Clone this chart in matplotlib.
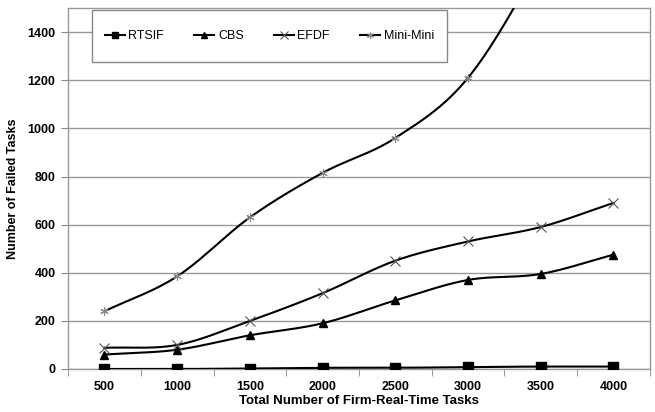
import numpy as np
import matplotlib
matplotlib.use("Agg")
import matplotlib.pyplot as plt
from matplotlib.lines import Line2D
from matplotlib.patches import Rectangle

plt.rcParams['font.family'] = ['Liberation Sans', 'DejaVu Sans']

categories = ["500", "1000", "1500", "2000", "2500", "3000", "3500", "4000"]
rtsif = [0, 0, 2, 5, 5, 8, 10, 10]
cbs = [60, 80, 140, 190, 285, 370, 395, 475]
efdf = [88, 100, 200, 315, 450, 530, 590, 690]
minimini = [240, 385, 630, 815, 960, 1210, 1700, 2300]
y_ticks = [0, 200, 400, 600, 800, 1000, 1200, 1400]


def smooth(xs, ys, n=30):
    xs = np.asarray(xs, float)
    ys = np.asarray(ys, float)
    px = np.concatenate([[2 * xs[0] - xs[1]], xs, [2 * xs[-1] - xs[-2]]])
    py = np.concatenate([[2 * ys[0] - ys[1]], ys, [2 * ys[-1] - ys[-2]]])
    ox, oy = [], []
    t = np.linspace(0, 1, n)
    for i in range(1, len(px) - 2):
        for p, out in ((px, ox), (py, oy)):
            p0, p1, p2, p3 = p[i - 1], p[i], p[i + 1], p[i + 2]
            seg = 0.5 * ((2 * p1) + (-p0 + p2) * t + (2 * p0 - 5 * p1 + 4 * p2 - p3) * t ** 2
                         + (-p0 + 3 * p1 - 3 * p2 + p3) * t ** 3)
            out.extend(seg)
    return np.array(ox), np.array(oy)


fig = plt.figure(figsize=(6.55, 4.12), dpi=100)
ax = fig.add_axes([0.104, 0.1044, 0.888, 0.876])

x = np.arange(len(categories))
series = [
    ("RTSIF", rtsif, dict(marker='s', markersize=7, markerfacecolor='black', markeredgecolor='black'), 5),
    ("CBS", cbs, dict(marker='^', markersize=6, markerfacecolor='black', markeredgecolor='black'), 5),
    ("EFDF", efdf, dict(marker='x', markersize=7, markeredgecolor='#555555', markeredgewidth=0.8), 6),
    ("Mini-Mini", minimini, dict(marker=(6, 2, 0), markersize=6, markeredgecolor='#888888', markeredgewidth=0.8), 5),
]
handles = []
for name, vals, st, lms in series:
    sx, sy = smooth(x, vals)
    ax.plot(sx, sy, color='black', lw=1.5, zorder=3)
    ax.plot(x, vals, linestyle='none', zorder=4, **st)
    hst = dict(st)
    hst['markersize'] = lms
    handles.append(Line2D([0], [0], color='black', lw=1.5, **hst))

ax.set_xlim(-0.5, len(categories) - 0.5)
ax.set_ylim(0, 1500)
ax.set_yticks(y_ticks)
ax.set_yticklabels([str(v) for v in y_ticks], fontweight='bold', fontsize=9)
ax.set_xticks(x)
ax.set_xticklabels(categories, fontweight='bold', fontsize=9)
ax.set_xticks(np.arange(len(categories) + 1) - 0.5, minor=True)
ax.tick_params(axis='x', which='major', length=0, pad=9)
ax.tick_params(axis='x', which='minor', length=5, color='#888888', direction='out')
ax.tick_params(axis='y', length=5, color='#888888', direction='out', pad=4)
ax.grid(axis='y', color='#999999', lw=1.0)
ax.set_axisbelow(True)
for s in ax.spines.values():
    s.set_color('#999999')
    s.set_linewidth(1.0)

ax.set_xlabel("Total Number of Firm-Real-Time Tasks", fontweight='bold', fontsize=9.5, labelpad=1)
ax.set_ylabel("Number of Failed Tasks", fontweight='bold', fontsize=9, labelpad=6)

# legend box (frame drawn separately to get the tall Excel-style box)
box = Rectangle((0.041, 0.850), 0.610, 0.144, transform=ax.transAxes,
                facecolor='white', edgecolor='#888888', lw=1.0, zorder=5)
ax.add_patch(box)
leg = ax.legend(handles, [s[0] for s in series], ncol=4, loc='center',
                bbox_to_anchor=(0.346, 0.922), frameon=False,
                fontsize=9, handlelength=1.6, handletextpad=0.3,
                columnspacing=2.4, borderpad=0.0, borderaxespad=0.0)
leg.set_zorder(6)

fig.savefig("out.png", dpi=100)
